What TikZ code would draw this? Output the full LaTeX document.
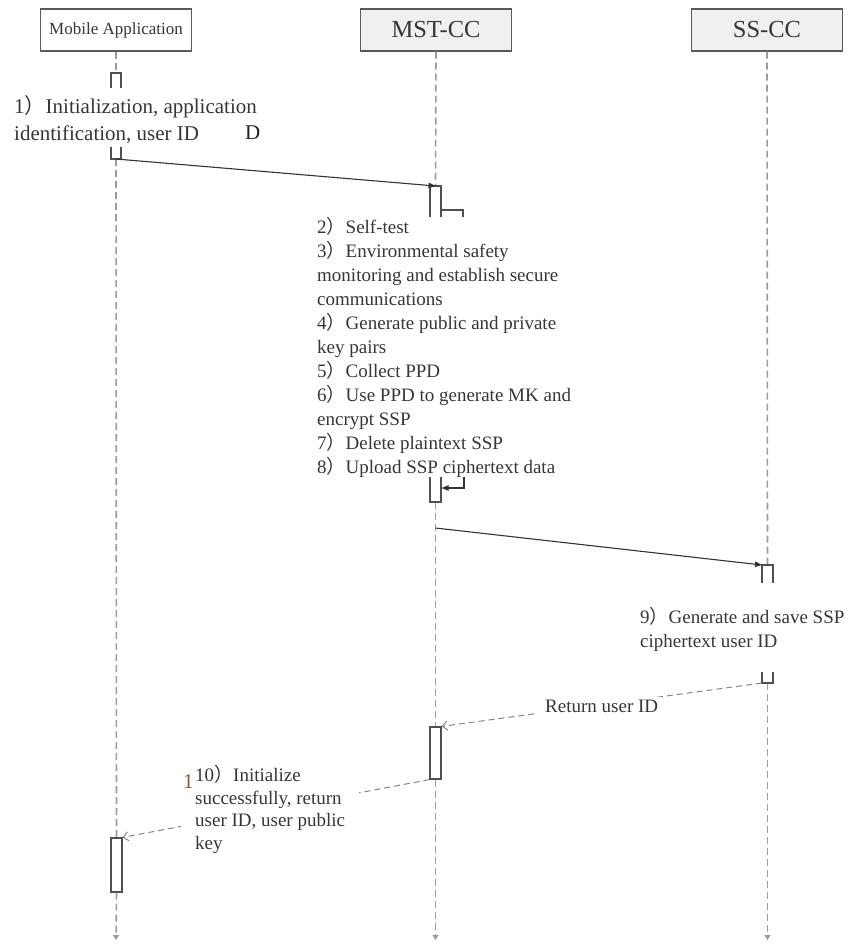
\documentclass[tikz,border=0pt]{standalone}
\usepackage{fontspec}
\setmainfont{Liberation Serif}
\newfontfamily\cjkf{Noto Sans CJK SC}
\usetikzlibrary{arrows.meta}
\newcommand\rpar{{\cjkf ）}}
\definecolor{txt}{HTML}{363636}
\definecolor{boxc}{HTML}{5A5A5A}
\definecolor{boxfill}{HTML}{F0F0F0}
\definecolor{lifec}{HTML}{9C9C9C}
\definecolor{actc}{HTML}{505050}
\definecolor{msgc}{HTML}{333333}
\definecolor{retc}{HTML}{858585}
\begin{document}
\begin{tikzpicture}[x=1pt,y=-1pt,
  head/.style={draw=boxc, line width=1.4pt, fill=boxfill, minimum width=151pt, minimum height=42pt, inner sep=0pt, text=txt},
  life/.style={draw=lifec, line width=1.6pt, dash pattern=on 7pt off 4pt},
  lifeend/.style={life, -{Triangle[length=5pt,width=6pt]}},
  act/.style={draw=actc, line width=1.2pt},
  actbox/.style={draw=actc, line width=1.2pt, fill=white, minimum width=11pt, inner sep=0pt},
  msg/.style={draw=msgc, line width=1.1pt, -{Triangle[length=7pt,width=5.5pt]}},
  ret/.style={draw=retc, line width=1.0pt, dash pattern=on 6pt off 4pt, -{Straight Barb[length=5pt,width=9pt]}},
  lbl/.style={text=txt, font=\fontsize{19}{24}\selectfont, align=left, inner sep=0pt, anchor=north west},
]
\useasboundingbox (0,0) rectangle (850,945);

% heads
\node[head, fill=white, font=\fontsize{17}{18}\selectfont] (ma) at (116,30) {Mobile Application};
\node[head, font=\fontsize{24.5}{26}\selectfont] (mst) at (436,30) {MST-CC};
\node[head, font=\fontsize{24.5}{26}\selectfont] (ss) at (767,30) {SS-CC};

% activation anchor points
\coordinate (m1t) at (116,73);
\coordinate (m2b) at (116,159);
\coordinate (mend) at (116,940);
\coordinate (s1t) at (435.5,186);
\coordinate (s2b) at (435.5,502);
\coordinate (s3) at (435.5,528);
\coordinate (send) at (435.5,940);
\coordinate (c1tl) at (762,565);
\coordinate (c1t) at (767.5,565);
\coordinate (c2b) at (767.5,683);
\coordinate (c2bl) at (762,683);
\coordinate (cend) at (767.5,940);

\node[actbox, minimum height=52pt] (a4) at (435.5,753) {};
\node[actbox, minimum height=54pt] (a5) at (116.5,865) {};

% lifelines
\draw[life] (ma.south) -- (m1t);
\draw[life] (m2b) -- (a5.north);
\draw[lifeend] (a5.south) -- (mend);
\draw[life] (mst.south) -- (s1t);
\draw[life] (s2b) -- (a4.north);
\draw[lifeend] (a4.south) -- (send);
\draw[life] (ss.south) -- (c1t);
\draw[lifeend] (c2b) -- (cend);

% mobile open activations
\draw[act] (111,88) -- (111,73) -- (121,73) -- (121,88);
\draw[act] (111,147) -- (111,159) -- (121,159) -- (121,147);
% MST activation pieces
\draw[act] (430,217) -- (430,186) -- (441,186) -- (441,217);
\draw[act] (441,210) -- (463,210) -- (463,217);
\draw[act] (430,477) -- (430,502) -- (441,502) -- (441,477);
\draw[msg] (464,477) -- (464,488) -- (441.6,488);
% SS activation pieces
\draw[act] (762,583) -- (762,565) -- (773,565) -- (773,583);
\draw[act] (762,672) -- (762,683) -- (773,683) -- (773,672);

% messages
\draw[msg] (m2b) -- (s1t);
\draw[msg] (s3) -- (c1tl);
\draw[ret] (c2bl) -- (a4.north east);
\draw[ret] (a4.south west) -- (a5.north east);

% labels
\node[lbl, font=\fontsize{21}{27}\selectfont] (t1) at (14,94.1) {\strut 1\rpar Initialization, application\\identification, user ID};
\node[text=txt!60!black, font=\fontsize{21}{24}\selectfont, inner sep=0pt, anchor=base west] (dd) at (245,139) {D};
\node[lbl] (t2) at (317,216.2) {\strut 2\rpar Self-test\\
3\rpar Environmental safety\\
monitoring and establish secure\\
communications\\
4\rpar Generate public and private\\
key pairs\\
5\rpar Collect PPD\\
6\rpar Use PPD to generate MK and\\
encrypt SSP\\
7\rpar Delete plaintext SSP\\
8\rpar Upload SSP ciphertext data};
\node[lbl] (t9) at (640,606.2) {\strut 9\rpar Generate and save SSP\\ciphertext user ID};
\node[text=txt, font=\fontsize{19}{24}\selectfont, fill=white, inner xsep=7pt, inner ysep=3pt, anchor=base west] (tr) at (538,712) {Return user ID};
\node[lbl, font=\fontsize{19}{22.7}\selectfont, fill=white, inner xsep=14pt, inner ysep=2pt] (t10) at (181,763.1) {\strut 10\rpar Initialize\\successfully, return\\user ID, user public\\key};
\node[text=brown!70!black, font=\fontsize{21}{24}\selectfont, inner sep=0pt, anchor=base west] (one) at (183,788) {1};
\end{tikzpicture}
\end{document}
